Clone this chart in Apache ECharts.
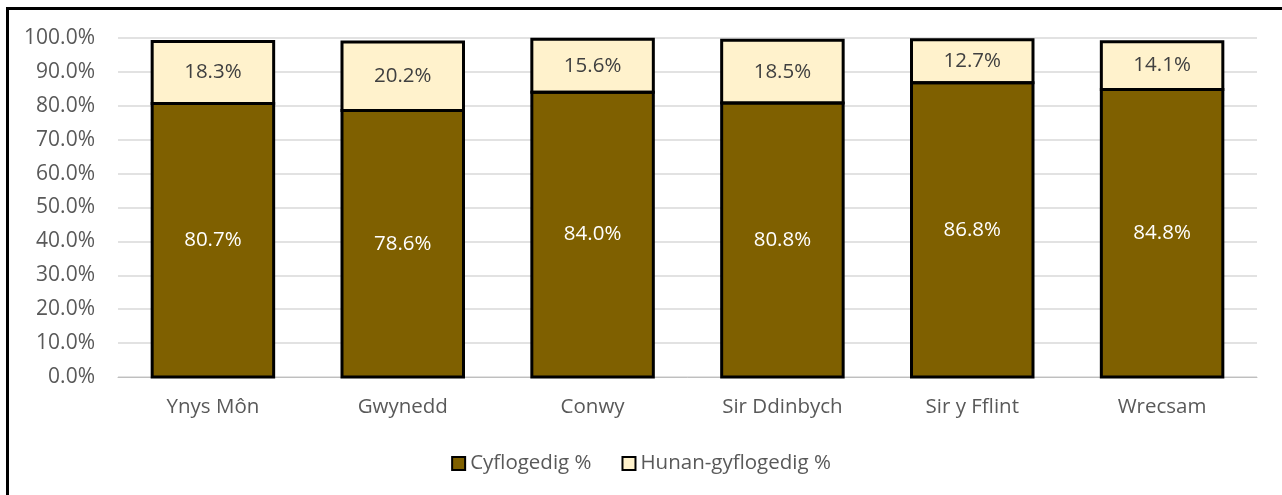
<!DOCTYPE html>
<html><head><meta charset="utf-8">
<script src="https://cdn.jsdelivr.net/npm/echarts@6/dist/echarts.min.js"></script>
<style>html,body{margin:0;padding:0;background:#fff}#c{width:1282px;height:495px}</style>
</head><body><div id="c"></div>
<script>
const categories = ['Ynys Môn','Gwynedd','Conwy','Sir Ddinbych','Sir y Fflint','Wrecsam'];
const employed = [80.7, 78.6, 84.0, 80.8, 86.8, 84.8];
const selfEmployed = [18.3, 20.2, 15.6, 18.5, 12.7, 14.1];
const seriesNames = ['Cyflogedig %', 'Hunan-gyflogedig %'];
const FONT = '"Open Sans", "Noto Sans", sans-serif';
const BAR_FRAC = 0.64;
const chart = echarts.init(document.getElementById('c'), null, {renderer:'canvas'});
chart.setOption({
  animation:false,
  textStyle:{fontFamily:FONT},
  graphic:[{type:'rect', shape:{x:7.5,y:8.5,width:1290,height:500}, style:{fill:'none',stroke:'#000',lineWidth:3}, z:100}],
  grid:{left:118, right:25, top:38, bottom:118},
  legend:{
    bottom:16, left:'center', itemWidth:13, itemHeight:13, itemGap:30,
    icon:'rect',
    itemStyle:{borderColor:'#000', borderWidth:2},
    textStyle:{color:'#595959', fontSize:20.5, fontFamily:FONT},
    data:seriesNames
  },
  xAxis:{
    type:'category', data:categories,
    axisLine:{lineStyle:{color:'#bfbfbf', width:1}},
    axisTick:{show:false},
    axisLabel:{color:'#595959', fontSize:20.5, margin:20, fontFamily:FONT}
  },
  yAxis:{
    type:'value', min:0, max:100, interval:10,
    axisLabel:{color:'#595959', fontSize:21, margin:23, formatter:v=>v.toFixed(1)+'%', fontFamily:FONT},
    splitLine:{lineStyle:{color:'#d9d9d9', width:1.5}},
    axisLine:{show:false}, axisTick:{show:false}
  },
  series:[
    {name:seriesNames[0], type:'bar', stack:'s', data:employed, barWidth:(BAR_FRAC*100)+'%',
     itemStyle:{color:'#7f6000'},
     label:{show:true, position:'inside', color:'#fff', fontSize:20.5, formatter:p=>p.value.toFixed(1)+'%', fontFamily:FONT}},
    {name:seriesNames[1], type:'bar', stack:'s', data:selfEmployed, barWidth:(BAR_FRAC*100)+'%',
     itemStyle:{color:'#fff2cc'},
     label:{show:true, position:'inside', color:'#404040', fontSize:20.5, formatter:p=>p.value.toFixed(1)+'%', fontFamily:FONT}},
    {name:'outline', type:'custom', z:5, silent:true,
     data:categories.map((c,i)=>[i, employed[i], selfEmployed[i]]),
     renderItem:(params, api)=>{
       const i = api.value(0), e = api.value(1), s = api.value(2);
       const p0 = api.coord([i, 0]), p1 = api.coord([i, e]), p2 = api.coord([i, e+s]);
       const w = api.size([1,0])[0]*BAR_FRAC;
       const x = p0[0]-w/2;
       const st = {fill:'none', stroke:'#000', lineWidth:3};
       return {type:'group', children:[
         {type:'rect', shape:{x:x, y:p1[1], width:w, height:p0[1]-p1[1]}, style:st},
         {type:'rect', shape:{x:x, y:p2[1], width:w, height:p1[1]-p2[1]}, style:st}
       ]};
     }}
  ]
});
</script></body></html>
